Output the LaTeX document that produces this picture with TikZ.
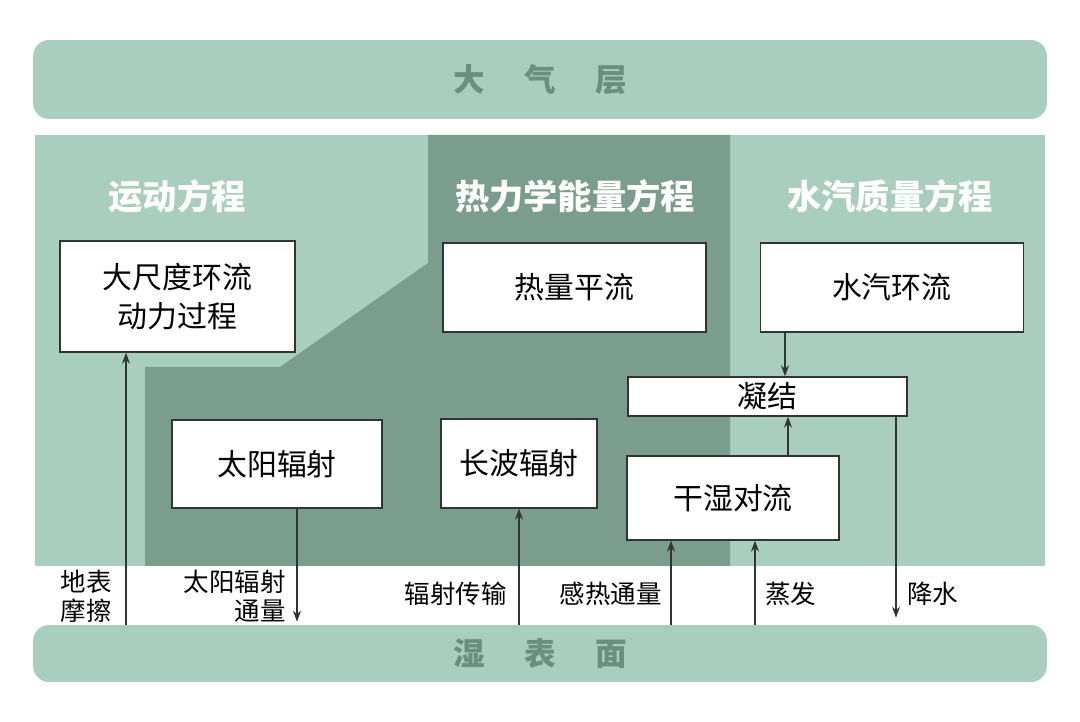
\documentclass[tikz,border=0pt]{standalone}
\usepackage{fontspec}
\setmainfont{Noto Sans CJK SC}
\usetikzlibrary{positioning, arrows.meta}

\definecolor{lightgreen}{HTML}{A9CDBE}
\definecolor{darkgreen}{HTML}{7B9D8D}
\definecolor{bandtext}{HTML}{6A8F7E}
\definecolor{boxline}{HTML}{333333}

\tikzset{
    band/.style={fill=lightgreen, rounded corners=0.32cm, minimum width=20.28cm, inner sep=0pt,
        text=bandtext, font=\fontsize{18}{20}\selectfont\bfseries},
    heading/.style={text=white, inner sep=0pt, font=\fontsize{19.5}{22}\selectfont\bfseries},
    procbox/.style={draw=boxline, fill=white, line width=0.8pt, inner sep=0pt, align=center,
        font=\fontsize{17}{22.5}\selectfont},
    fluxlabel/.style={inner sep=0pt, align=right, font=\fontsize{14.5}{16.5}\selectfont},
    flow/.style={-{Stealth[length=2.2mm, width=1.6mm]}, line width=0.6pt, draw=boxline}
}

\begin{document}
\begin{tikzpicture}[x=0.02cm, y=-0.02cm]
    \useasboundingbox (0,0) rectangle (1080,722);

    % Background regions
    \fill[lightgreen] (35,135) rectangle (1045,566);
    \fill[darkgreen] (428,135) -- (730,135) -- (730,566) -- (145,566) -- (145,367) -- (280,367) -- (428,263) -- cycle;

    % Atmosphere and surface
    \node[band, minimum height=1.58cm] (atmos) at (540,79.5) {大\hspace{1.25em}气\hspace{1.25em}层};
    \node[band, minimum height=1.14cm] (surface) at (540,653.5) {湿\hspace{1.25em}表\hspace{1.25em}面};

    % Equation headings
    \node[heading] (motion) at (177,196) {运动方程};
    \node[heading] (energy) at (575,196) {热力学能量方程};
    \node[heading] (vapour) at (890,196) {水汽质量方程};

    % Process boxes
    \node[procbox, minimum width=4.7cm, minimum height=2.22cm] (dynamics) at (177.5,296.5) {大尺度环流\\动力过程};
    \node[procbox, minimum width=5.26cm, minimum height=1.78cm] (advection) at (574.5,287.5) {热量平流};
    \node[procbox, minimum width=5.26cm, minimum height=1.78cm, right=1.06cm of advection] (circulation) {水汽环流};
    \node[procbox, minimum width=5.58cm, minimum height=0.78cm] (condense) at (767.5,396.5) {凝结};
    \node[procbox, minimum width=4.2cm, minimum height=1.76cm] (solar) at (277,464) {太阳辐射};
    \node[procbox, minimum width=3.12cm, minimum height=1.78cm] (longwave) at (519,463.5) {长波辐射};
    \node[procbox, minimum width=4.24cm, minimum height=1.68cm] (convect) at (733,498) {干湿对流};

    % Arrow positions
    \coordinate (fric) at (126,0);
    \coordinate (sflux) at (297,0);
    \coordinate (rad) at (519,0);
    \coordinate (sens) at (671,0);
    \coordinate (evap) at (755,0);
    \coordinate (cdown) at (785,0);
    \coordinate (cup) at (788,0);
    \coordinate (rain) at (896,0);

    % Flux labels
    \node[fluxlabel, anchor=east] (fric_lbl) at (112,596) {地表\\摩擦};
    \node[fluxlabel, anchor=east] (sflux_lbl) at (286,596) {太阳辐射\\通量};
    \node[fluxlabel, anchor=east] (rad_lbl) at (507,594) {辐射传输};
    \node[fluxlabel, anchor=east] (sens_lbl) at (662,594) {感热通量};
    \node[fluxlabel, anchor=west] (evap_lbl) at (765,594) {蒸发};
    \node[fluxlabel, anchor=west] (rain_lbl) at (907,594) {降水};

    % Arrows
    \draw[flow] (surface.north -| fric) -- (dynamics.south -| fric);
    \draw[flow] (solar.south -| sflux) -- ([yshift=0.06cm]surface.north -| sflux);
    \draw[flow] (surface.north -| rad) -- (longwave.south -| rad);
    \draw[flow] (surface.north -| sens) -- (convect.south -| sens);
    \draw[flow] (surface.north -| evap) -- (convect.south -| evap);
    \draw[flow] (circulation.south -| cdown) -- (condense.north -| cdown);
    \draw[flow] (convect.north -| cup) -- (condense.south -| cup);
    \draw[flow] (condense.south -| rain) -- ([yshift=0.14cm]surface.north -| rain);
\end{tikzpicture}
\end{document}
